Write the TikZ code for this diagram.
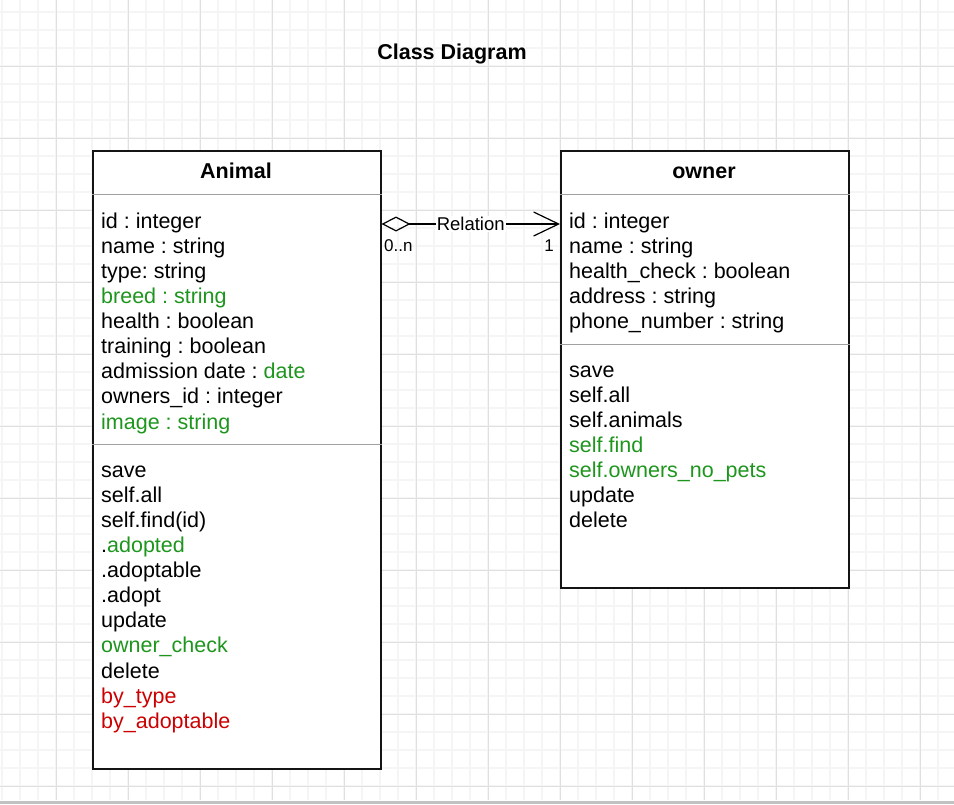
\documentclass[tikz,border=0pt]{standalone}
\usepackage{fontspec}
\setmainfont{Liberation Sans}
\usetikzlibrary{arrows.meta}
\definecolor{grn}{RGB}{30,150,30}
\definecolor{rd}{RGB}{204,0,0}
\definecolor{minorg}{RGB}{245,245,245}
\definecolor{majorg}{RGB}{224,224,224}
\definecolor{sepg}{RGB}{160,160,160}
\frenchspacing
\begin{document}
\frenchspacing
\begin{tikzpicture}[x=1pt,y=-1pt,
  classbox/.style={draw=black!92, line width=1.5pt, fill=white, inner sep=0pt, anchor=north west},
  hdr/.style={anchor=base, inner sep=0pt, font=\fontsize{21.5}{24}\selectfont\bfseries},
  ln/.style={anchor=base west, inner sep=0pt, font=\fontsize{21.5}{24}\selectfont},
  sepline/.style={draw=sepg, line width=1.3pt},
  rel/.style={line width=1.2pt, {Diamond[open,length=29pt,width=15pt]}-{Straight Barb[length=25pt,width=24pt]}},
  rlabel/.style={fill=white, inner sep=1pt, font=\fontsize{18.5}{20}\selectfont},
  mult/.style={inner sep=0pt, font=\fontsize{17}{19}\selectfont}]
\useasboundingbox (0,0) rectangle (954,804);
\fill[white] (0,0) rectangle (954,804);
% grid
\foreach \x in {2,20,...,954} \draw[minorg, line width=1.2pt] (\x,0) -- (\x,800);
\foreach \y in {12,30,...,800} \draw[minorg, line width=1.2pt] (0,\y) -- (954,\y);
\foreach \x in {56,128,...,954} \draw[majorg, line width=1pt] (\x,0) -- (\x,800);
\foreach \y in {66,138,...,800} \draw[majorg, line width=1pt] (0,\y) -- (954,\y);
\fill[black!24] (0,801) rectangle (954,804);

% title
\node[hdr] (title) at (452,59) {Class Diagram};

% Animal class
\node[classbox, minimum width=288pt, minimum height=618pt] (animal) at (92,150) {};
\node[hdr] (animaltitle) at (236,178) {Animal};
\draw[sepline] (animal.west |- 0,194.5) -- (animal.east |- 0,194.5);
\draw[sepline] (animal.west |- 0,444.5) -- (animal.east |- 0,444.5);
\foreach \t [count=\i] in {id : integer, name : string, type: string, \textcolor{grn}{breed : string}, health : boolean, training : boolean, admission date : \textcolor{grn}{date}, owners\_id : integer, \textcolor{grn}{image : string}}
  \node[ln] (aa\i) at (101,{228+(\i-1)*25.125}) {\t};
\foreach \t [count=\i] in {save, self.all, self.find(id), .\textcolor{grn}{adopted}, .adoptable, .adopt, update, \textcolor{grn}{owner\_check}, delete, \textcolor{rd}{by\_type}, \textcolor{rd}{by\_adoptable}}
  \node[ln] (am\i) at (101,{477+(\i-1)*25.125}) {\t};

% owner class
\node[classbox, minimum width=288pt, minimum height=437pt] (owner) at (560,150) {};
\node[hdr] (ownertitle) at (704,178) {owner};
\draw[sepline] (owner.west |- 0,194.5) -- (owner.east |- 0,194.5);
\draw[sepline] (owner.west |- 0,344.5) -- (owner.east |- 0,344.5);
\foreach \t [count=\i] in {id : integer, name : string, health\_check : boolean, address : string, phone\_number : string}
  \node[ln] (oa\i) at (569,{228+(\i-1)*25.125}) {\t};
\foreach \t [count=\i] in {save, self.all, self.animals, \textcolor{grn}{self.find}, \textcolor{grn}{self.owners\_no\_pets}, update, delete}
  \node[ln] (om\i) at (569,{377+(\i-1)*25.125}) {\t};

% relation
\coordinate (relA) at (animal.east |- 0,224);
\coordinate (relB) at (owner.west |- 0,224);
\draw[rel] (relA) -- node[rlabel] (rellabel) {Relation} (relB);
\node[mult, anchor=west] (multA) at (384,246) {0..n};
\node[mult, anchor=east] (multB) at (554,246) {1};
\end{tikzpicture}
\end{document}
